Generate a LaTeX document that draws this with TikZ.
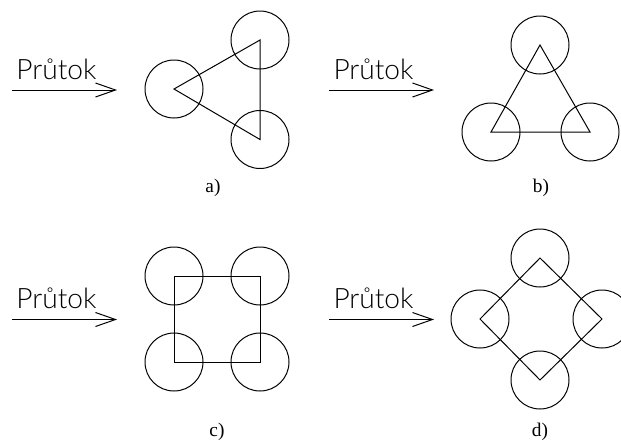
\documentclass[tikz,border=0pt]{standalone}
\usepackage{fontspec}
\setmainfont{Liberation Serif}
\newfontfamily\flowfont{Lato Light}
\usetikzlibrary{arrows.meta, calc}
\tikzset{pipe/.style={draw, circle, minimum size=1.74cm, inner sep=0pt},
  caption/.style={font=\fontsize{16.5}{18}\selectfont},
  flowtext/.style={anchor=base west, inner sep=0pt, font=\flowfont\fontsize{24}{26}\selectfont},
  flowline/.style={-{Straight Barb[length=0.6cm, width=0.42cm, line width=0.85pt]}}}
\newcommand{\fflow}[3]{
\coordinate (#1s) at (#2,#3);
\coordinate (#1e) at ($(#1s)+(105,0)$);
\draw[flowline] (#1s) -- (#1e);
\node[flowtext] (#1t) at ($(#1s)+(4,-11)$) {Průtok};}

\begin{document}
\begin{tikzpicture}[x=0.03cm, y=-0.03cm, line width=0.85pt]
\useasboundingbox (0,0) rectangle (621,441);
% a)
\fflow{a}{12}{90}
\node[pipe] (a1) at (174,89) {};
\node[pipe] (a2) at (260,40) {};
\node[pipe] (a3) at (260,139.5) {};
\draw (a1.center) -- (a2.center) -- (a3.center) -- cycle;
\node[caption] (la) at (213,188) {a)};
% b)
\fflow{b}{329}{90}
\node[pipe] (b1) at (540,45) {};
\node[pipe] (b2) at (491,132) {};
\node[pipe] (b3) at (590,132) {};
\draw (b1.center) -- (b2.center) -- (b3.center) -- cycle;
\node[caption] (lb) at (541,188) {b)};
% c)
\fflow{c}{12}{319.5}
\node[pipe] (c1) at (174,276) {};
\node[pipe] (c2) at (260,276) {};
\node[pipe] (c3) at (260,362) {};
\node[pipe] (c4) at (174,362) {};
\draw (c1.center) -- (c2.center) -- (c3.center) -- (c4.center) -- cycle;
\node[caption] (lc) at (217,432) {c)};
% d)
\fflow{d}{329}{319.5}
\node[pipe] (d1) at (540,258) {};
\node[pipe] (d2) at (602,319) {};
\node[pipe] (d3) at (540,380) {};
\node[pipe] (d4) at (480,319) {};
\draw (d1.center) -- (d2.center) -- (d3.center) -- (d4.center) -- cycle;
\node[caption] (ld) at (540,432) {d)};
\end{tikzpicture}
\end{document}
